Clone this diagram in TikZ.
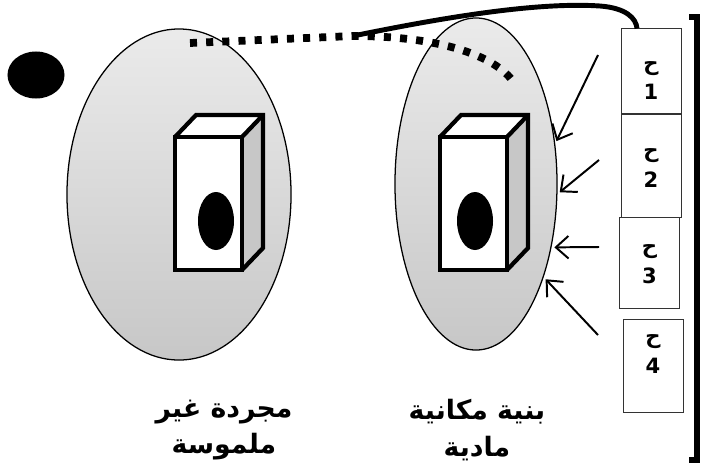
\documentclass[tikz,border=0pt]{standalone}
\usepackage{fontspec}
\TeXXeTstate=1
\newfontfamily\arabicfont[Script=Arabic]{DejaVu Sans}
\usetikzlibrary{shapes.geometric,arrows.meta}
\definecolor{sideface}{gray}{0.78}

\begin{document}
\begin{tikzpicture}[x=0.025cm,y=-0.025cm,
    blob/.style={ellipse,draw,line width=0.9pt,inner sep=0pt,top color=gray!16,bottom color=gray!44},
    cube/.style={line width=3pt,line join=miter},
    hbox/.style={draw=black!80,line width=0.7pt,minimum width=1.5cm,align=center,text depth=0pt,font=\arabicfont\bfseries\fontsize{15}{21}\selectfont},
    push/.style={line width=1.4pt,shorten >=2pt,-{Straight Barb[length=9pt,width=16pt]}},
    lbl/.style={align=center,font=\arabicfont\bfseries\fontsize{19}{26}\selectfont}]
    \useasboundingbox (0,0) rectangle (701,474);
    \node[blob,minimum width=5.6cm,minimum height=8.275cm] (abs) at (179,194.5) {};
    \node[blob,minimum width=4.05cm,minimum height=8.3cm] (mat) at (476,184) {};
    \node[ellipse,fill=black,minimum width=1.425cm,minimum height=1.175cm] (dot) at (36,75) {};
    \foreach \bx/\ox in {175/41,440/35}{
        \fill[white] (\bx,137) rectangle (\bx+67,270);
        \fill[white] (\bx,137) -- (\bx+21,115) -- (\bx+88,115) -- (\bx+67,137) -- cycle;
        \fill[sideface] (\bx+67,137) -- (\bx+88,115) -- (\bx+88,248) -- (\bx+67,270) -- cycle;
        \draw[cube] (\bx,137) rectangle (\bx+67,270);
        \draw[cube] (\bx,137) -- (\bx+21,115) -- (\bx+88,115) -- (\bx+88,248) -- (\bx+67,270);
        \draw[cube] (\bx+67,137) -- (\bx+88,115);
        \fill (\bx+\ox,221) ellipse (18 and 29);
    }
    \node[hbox,minimum height=2.125cm,text height=40.5pt] (h1) at (651,71.5) {\beginR ح\endR\\1};
    \node[hbox,minimum height=2.575cm,text height=30.6pt] (h2) at (651,165.5) {\beginR ح\endR\\2};
    \node[hbox,minimum height=2.275cm,text height=29.2pt] (h3) at (649.5,262.5) {\beginR ح\endR\\3};
    \node[hbox,minimum height=2.325cm,text height=10.7pt] (h4) at (653,365.5) {\beginR ح\endR\\4};
    \draw[line width=4pt] (689,17) -- (697,17) -- (697,460) -- (689,460);
    \coordinate (ds) at (190,43);
    \coordinate (j) at (353,36);
    \coordinate (de) at (512,80);
    \draw[line width=3.5pt] (j) .. controls (450,16) and (540,2) .. (600,6) .. controls (626,8) and (636,18) .. (h1.108);
    \draw[line width=5.5pt,dash pattern=on 5pt off 6.5pt] (ds) -- (j) .. controls (430,36) and (490,52) .. (de);
    \coordinate (s1) at (598,55);
    \coordinate (s2) at (599,160);
    \coordinate (s3) at (599,247);
    \coordinate (s4) at (598,335);
    \draw[push] (s1) -- (mat.27);
    \draw[push] (s2) -- (mat.-7);
    \draw[push] (s3) -- (mat.-40);
    \draw[push] (s4) -- (mat.-54);
    \node[lbl] (lab1) at (224,430) {\beginR مجردة غير\endR\\\beginR ملموسة\endR};
    \node[lbl] (lab2) at (477,430) {\beginR بنية مكانية\endR\\\beginR مادية\endR};
\end{tikzpicture}
\end{document}
